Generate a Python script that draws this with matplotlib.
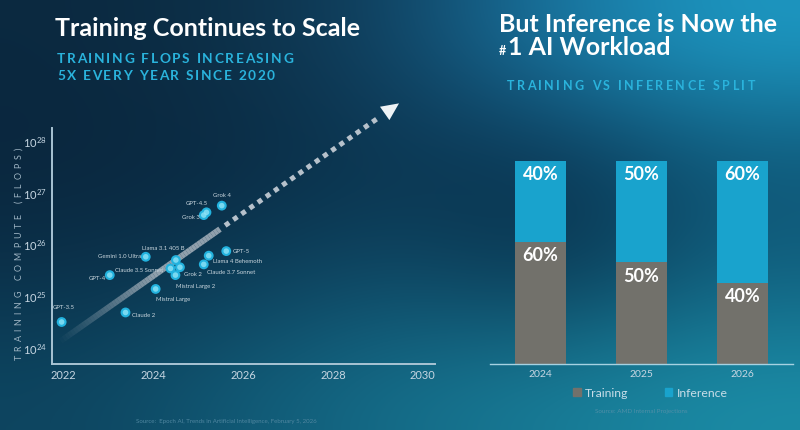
import numpy as np
import matplotlib.pyplot as plt
from matplotlib.patches import Patch
from matplotlib.collections import LineCollection
from matplotlib.textpath import TextToPath
from matplotlib.font_manager import FontProperties
from matplotlib.colors import to_rgb

plt.rcParams['font.family'] = ['Lato', 'DejaVu Sans']
plt.rcParams['mathtext.fontset'] = 'custom'
plt.rcParams['mathtext.rm'] = 'Lato'

W, H = 800, 430

# --- data: training compute of frontier models ---
models = ["GPT-3.5", "Claude 2", "GPT-4", "Mistral Large", "Gemini 1.0 Ultra",
          "Llama 3.1 405 B", "Claude 3.5 Sonnet", "Grok 2", "Mistral Large 2",
          "Claude 3.7 Sonnet", "Llama 4 Behemoth", "GPT-5", "Grok 3", "GPT-4.5", "Grok 4"]
release_year = [2021.97, 2023.39, 2023.04, 2024.06, 2023.84,
                2024.51, 2024.39, 2024.60, 2024.50,
                2025.13, 2025.24, 2025.63, 2025.13, 2025.19, 2025.53]
train_flops = [3.2e24, 4.9e24, 2.6e25, 1.4e25, 5.9e25,
               5.1e25, 3.5e25, 3.7e25, 2.6e25,
               4.2e25, 6.2e25, 7.6e25, 3.8e26, 4.3e26, 5.8e26]

# trend arrow (start / tip)
trend_years = [2021.89, 2029.47]
trend_flops = [1.26e24, 5.6e28]

# --- data: training vs inference split ---
split_years = ["2024", "2025", "2026"]
training_share = [60, 50, 40]
inference_share = [40, 50, 60]

# label placement (offset in px, horizontal alignment)
label_style = {
    "GPT-3.5": (2, 14, "center"), "Claude 2": (6, -3, "left"), "GPT-4": (-4, -3, "right"),
    "Mistral Large": (0, -11, "left"), "Gemini 1.0 Ultra": (-5, 0, "right"),
    "Llama 3.1 405 B": (-13, 12, "center"), "Claude 3.5 Sonnet": (-7, -2, "right"),
    "Grok 2": (4, -7, "left"), "Mistral Large 2": (1, -11, "left"),
    "Claude 3.7 Sonnet": (3, -8, "left"), "Llama 4 Behemoth": (4, -6, "left"),
    "GPT-5": (6, 0, "left"), "Grok 3": (-4, -2, "right"), "GPT-4.5": (-10, 9, "center"),
    "Grok 4": (0, 10, "center"),
}

CYAN = "#2ab3dc"
TRAIN_C = "#72716b"
INFER_C = "#19a3cd"

_ttp = TextToPath()


def tracked_text(fig, x, y, s, width, size, color, weight="normal", vertical=False):
    """Letter-spaced text, x/y in px from top-left; stretched to `width` px."""
    fp = FontProperties(family="Lato", size=size, weight=weight)
    ws = []
    for c in s:
        if c == " ":
            ws.append(0.28 * size * fig.dpi / 72)
        else:
            ws.append(_ttp.get_text_width_height_descent(c, fp, ismath=False)[0] * fig.dpi / 72)
    gap = (width - sum(ws)) / (len(s) - 1)
    pos = 0
    for c, cw in zip(s, ws):
        if vertical:
            fig.text(x / W, 1 - (y - pos) / H, c, rotation=90, rotation_mode="anchor",
                     ha="left", va="center", fontsize=size, color=color, weight=weight)
        else:
            fig.text((x + pos) / W, 1 - y / H, c, ha="left", va="baseline",
                     fontsize=size, color=color, weight=weight)
        pos += cw + gap


fig = plt.figure(figsize=(8, 4.3), dpi=100)

# background gradient
bg_hex = [
    ["#0b2940", "#0d3149", "#114566", "#1a78a4", "#1d98c2"],
    ["#0a263d", "#0a2b44", "#0b3651", "#0a3350", "#0f5778"],
    ["#0b3049", "#0c3a55", "#0f4a67", "#09324c", "#11607f"],
    ["#0d4560", "#115a76", "#156e8a", "#187d98", "#1b8ca6"],
]
bg = np.array([[to_rgb(c) for c in row] for row in bg_hex])
bax = fig.add_axes([0, 0, 1, 1], zorder=-10)
bax.imshow(bg, aspect="auto", interpolation="bicubic", extent=[0, 1, 0, 1])
bax.axis("off")

# ================= left: training compute =================
ax = fig.add_axes([52 / W, 66 / H, 383 / W, 236 / H])
ax.set_facecolor("none")
ax.set_yscale("log")
ax.set_xlim(2021.756, 2030.27)
ax.set_ylim(10 ** 23.69, 10 ** 28.27)
ax.set_xticks([2022, 2024, 2026, 2028, 2030])
ax.set_xticklabels(["2022", "2024", "2026", "2028", "2030"])
ax.set_yticks([1e24, 1e25, 1e26, 1e27, 1e28])
ax.set_yticklabels([r"$\mathregular{10^{%d}}$" % e for e in range(24, 29)])
ax.minorticks_off()
ax.tick_params(length=0, labelsize=8, colors="#c6d6e2", pad=4)
for s in ["top", "right"]:
    ax.spines[s].set_visible(False)
for s in ["left", "bottom"]:
    ax.spines[s].set_color("#a9c4d4")
    ax.spines[s].set_linewidth(1.4)

# trend: solid fading part, dotted part, arrow head
lx = np.log10(trend_flops)
def trend_at(t):
    return (trend_years[0] + t * (trend_years[1] - trend_years[0]),
            10 ** (lx[0] + t * (lx[1] - lx[0])))

ts = np.linspace(0, 0.475, 60)
pts = np.array([trend_at(t) for t in ts])
segs = [[pts[i], pts[i + 1]] for i in range(len(pts) - 1)]
alphas = np.clip(np.linspace(0, 1.4, len(segs)), 0, 0.85)
cols = [(0.66, 0.70, 0.74, a) for a in alphas]
ax.add_collection(LineCollection(segs, colors=cols, linewidths=4.3, capstyle="butt", zorder=2))

d0, d1 = trend_at(0.49), trend_at(0.935)
ax.plot([d0[0], d1[0]], [d0[1], d1[1]], color="#b6c1cb", lw=3.6,
        linestyle=(0, (1, 1)), zorder=2, clip_on=False)
ax.annotate("", xy=trend_at(1.0), xytext=trend_at(0.93), annotation_clip=False,
            arrowprops=dict(arrowstyle="-|>,head_length=0.9,head_width=0.42",
                            mutation_scale=14, fc="#eef3f6", ec="none", lw=0,
                            shrinkA=0, shrinkB=0), zorder=3)

# model points
ax.scatter(release_year, train_flops, s=50, color="#22b2de", edgecolor="none", zorder=4)
ax.scatter(release_year, train_flops, s=16, color="#8fe3f7", edgecolor="none", zorder=5, alpha=0.8)
for m, xv, yv in zip(models, release_year, train_flops):
    dx, dy, ha = label_style[m]
    ax.annotate(m, (xv, yv), xytext=(dx * 0.72, dy * 0.72), textcoords="offset points",
                ha=ha, va="center", fontsize=4.3, color="#c9d6de", zorder=6)

tracked_text(fig, 19, 360, "TRAINING COMPUTE (FLOPS)", 212, 6.4, "#9fb5c4", vertical=True)

fig.text(55 / W, 1 - 36 / H, "Training Continues to Scale", fontsize=18, weight="bold",
         color="white", va="baseline")
tracked_text(fig, 57, 63, "TRAINING FLOPS INCREASING", 236, 9.8, CYAN, weight="bold")
tracked_text(fig, 57, 80, "5X EVERY YEAR SINCE 2020", 218, 9.8, CYAN, weight="bold")
fig.text(226 / W, 1 - 422 / H, "Source:  Epoch AI, Trends in Artificial Intelligence, February 5, 2026",
         fontsize=4.4, color="#4f86a0", ha="center", va="center")

# ================= right: training vs inference split =================
axr = fig.add_axes([490 / W, 66 / H, 303 / W, 203.3 / H])
axr.set_facecolor("none")
x = np.arange(len(split_years))
axr.bar(x, training_share, width=0.5, color=TRAIN_C, zorder=2)
axr.bar(x, inference_share, width=0.5, bottom=training_share, color=INFER_C, zorder=2)
axr.set_xlim(-0.5, 2.5)
axr.set_ylim(0, 100)
axr.set_yticks([])
axr.set_xticks(x)
axr.set_xticklabels(split_years)
axr.tick_params(length=0, labelsize=7.5, colors="#c6d6e2", pad=4)
for s in ["top", "right", "left"]:
    axr.spines[s].set_visible(False)
axr.spines["bottom"].set_color("#a6d2e2")
axr.spines["bottom"].set_linewidth(1.0)

for xi, tr, inf in zip(x, training_share, inference_share):
    axr.annotate(f"{inf}%", (xi, tr + inf), xytext=(0, -10), textcoords="offset points",
                 ha="center", va="center", fontsize=13, weight="bold", color="white", zorder=3)
    axr.annotate(f"{tr}%", (xi, tr), xytext=(0, -10), textcoords="offset points",
                 ha="center", va="center", fontsize=13, weight="bold", color="white", zorder=3)

handles = [Patch(color=TRAIN_C, label="Training"), Patch(color=INFER_C, label="Inference")]
axr.legend(handles=handles, loc="center", bbox_to_anchor=(0.53, -0.143), ncol=2,
           frameon=False, handlelength=0.6, handleheight=0.6, handletextpad=0.35,
           columnspacing=3.0, fontsize=8.8, labelcolor="#c8dde8")

fig.text(499 / W, 1 - 32 / H, "But Inference is Now the", fontsize=18, weight="bold",
         color="white", va="baseline")
fig.text(499 / W, 1 - 55 / H, "#", fontsize=9, weight="bold", color="white", va="baseline")
fig.text(508 / W, 1 - 55 / H, "1 AI Workload", fontsize=18, weight="bold",
         color="white", va="baseline")
tracked_text(fig, 507, 90, "TRAINING VS INFERENCE SPLIT", 248, 9, CYAN, weight="bold")
fig.text(641 / W, 1 - 412 / H, "Source: AMD Internal Projections", fontsize=4.5,
         color="#4f8fa8", ha="center", va="center")

fig.savefig("out.png", dpi=100)
